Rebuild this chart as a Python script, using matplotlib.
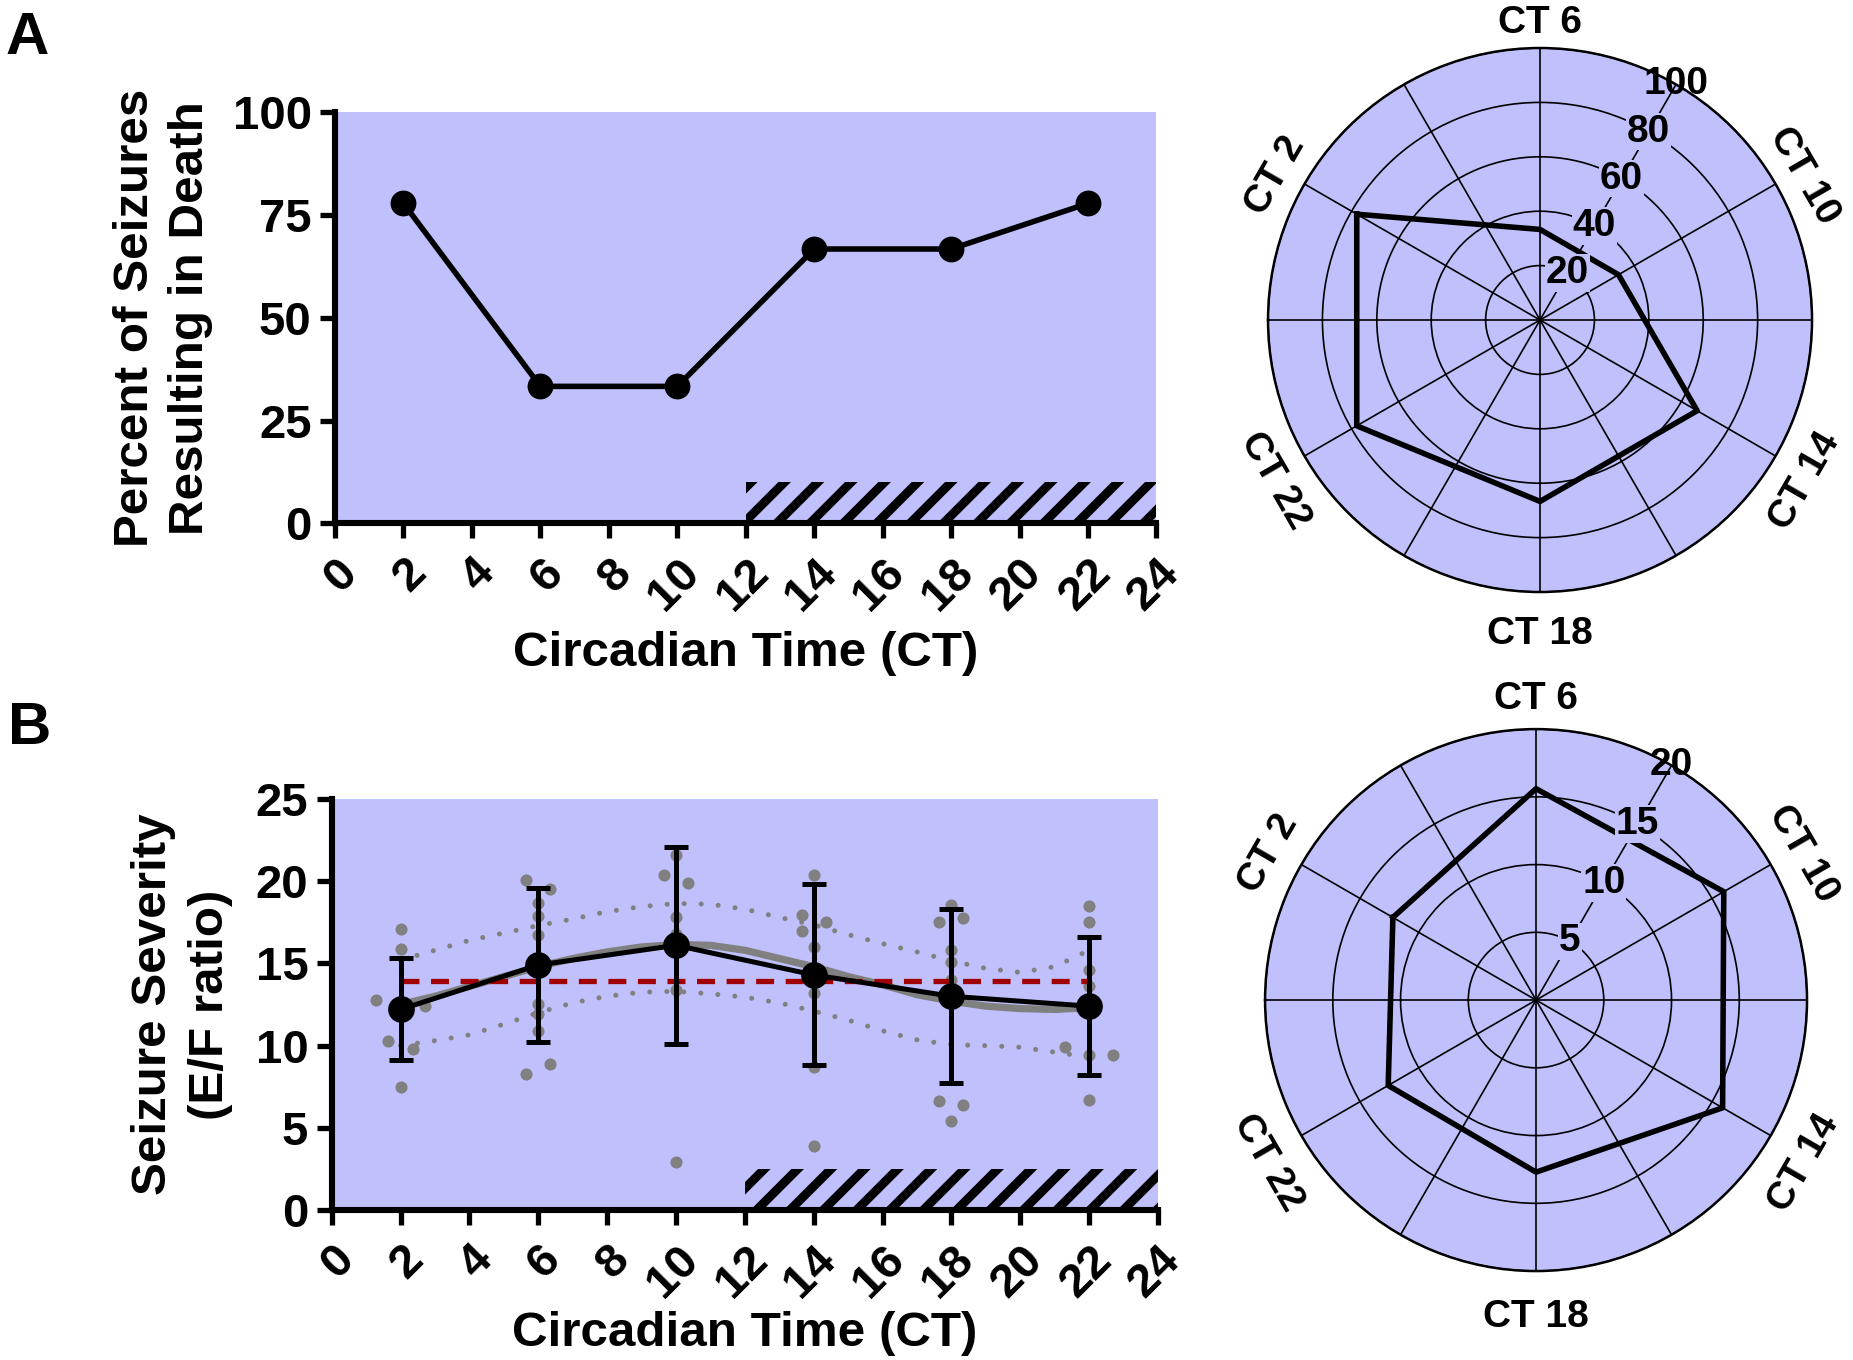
import numpy as np
import matplotlib
matplotlib.use("Agg")
import matplotlib.pyplot as plt
from matplotlib.patches import Rectangle
from matplotlib.transforms import ScaledTranslation

plt.rcParams["font.family"] = ["Liberation Sans", "DejaVu Sans"]
plt.rcParams["font.weight"] = "bold"
plt.rcParams["axes.labelweight"] = "bold"
plt.rcParams["hatch.linewidth"] = 3.2
plt.rcParams["hatch.color"] = "black"

BG = "#c0c0fd"

# circadian time points
ct = [2, 6, 10, 14, 18, 22]

# Panel A: percent of seizures resulting in death
death_pct = [77.8, 33.3, 33.3, 66.7, 66.7, 77.8]

# Panel B: seizure severity, mean +/- SD per time point
sev_mean = [12.2, 14.9, 16.1, 14.3, 13.0, 12.4]
sev_sd = [3.1, 4.7, 6.0, 5.5, 5.3, 4.2]
overall_mean = 13.9

# individual animals (x jittered as in the figure)
pts_x = [1.3, 2.0, 2.0, 2.7, 1.65, 2.35, 2.0,
         5.65, 6.35, 6.0, 6.0, 6.0, 6.0, 6.0, 6.0, 5.65, 6.35,
         10.0, 9.65, 10.35, 10.0, 10.0, 10.0, 10.0,
         14.0, 13.65, 14.35, 13.65, 14.0, 14.0, 14.0, 14.0,
         18.0, 17.65, 18.35, 18.0, 18.0, 18.0, 17.65, 18.35, 18.0,
         22.0, 22.0, 22.0, 22.0, 21.3, 22.0, 22.7, 22.0]
pts_y = [12.8, 17.1, 15.9, 12.4, 10.3, 9.8, 7.5,
         20.1, 19.5, 18.7, 17.9, 16.7, 12.5, 11.9, 10.9, 8.3, 8.9,
         21.6, 20.4, 19.9, 17.8, 16.8, 13.4, 2.9,
         20.4, 17.95, 17.5, 17.0, 16.0, 13.2, 8.7, 3.9,
         18.55, 17.5, 17.75, 15.8, 15.1, 14.0, 6.65, 6.4, 5.4,
         18.5, 17.5, 14.6, 13.65, 9.9, 9.4, 9.45, 6.7]

# cosinor fit and its 95% band, read every hour
fit_ct = [2, 3, 4, 5, 6, 7, 8, 9, 10, 11, 12, 13, 14, 15, 16, 17, 18, 19, 20, 21, 22]
fit_y = [12.5, 13.0, 13.6, 14.2, 14.8, 15.3, 15.7, 16.0, 16.15, 16.1, 15.8,
         15.3, 14.8, 14.2, 13.7, 13.1, 12.7, 12.4, 12.25, 12.2, 12.3]
fit_hi = [15.2, 15.8, 16.4, 16.85, 17.3, 17.7, 18.15, 18.45, 18.65, 18.6, 18.3,
          17.8, 17.35, 16.75, 16.2, 15.7, 15.15, 14.7, 14.45, 14.8, 15.8]
fit_lo = [10.0, 10.3, 10.65, 11.3, 12.0, 12.6, 13.0, 13.25, 13.3, 13.15, 12.95,
          12.6, 12.1, 11.55, 10.9, 10.35, 10.05, 10.0, 9.9, 9.6, 9.3]

# radar plot values for panel B
sev_radar = [12.2, 15.6, 16.0, 15.9, 12.7, 12.6]

# dark phase bar
dark_start, dark_end = 12, 24
xticks = list(range(0, 25, 2))

fig = plt.figure(figsize=(9.265, 6.8), dpi=200)


def style_xy(ax, ymax, yticks, bar_h):
    ax.set_facecolor(BG)
    ax.set_xlim(0, 24)
    ax.set_ylim(0, ymax)
    ax.set_xticks(xticks)
    ax.set_yticks(yticks)
    for s in ["top", "right"]:
        ax.spines[s].set_visible(False)
    for s in ["left", "bottom"]:
        ax.spines[s].set_linewidth(2.2)
    ax.tick_params(length=5.4, width=1.9, labelsize=17, pad=3)
    ax.tick_params(axis="x", pad=4.5)
    plt.setp(ax.get_xticklabels(), rotation=45, ha="right", va="top",
             rotation_mode="anchor")
    ax.add_patch(Rectangle((dark_start, 0), dark_end - dark_start, bar_h,
                           fill=False, hatch="//", edgecolor="black",
                           linewidth=0, zorder=1))
    ax.set_xlabel("Circadian Time (CT)", fontsize=17.8)


# ---- Panel A line plot
axA = fig.add_axes([0.1808, 0.6152, 0.4433, 0.3024])
style_xy(axA, 100, [0, 25, 50, 75, 100], 10)
axA.plot(ct, death_pct, "-o", color="black", lw=2.0, ms=8.3, zorder=3)
axA.set_ylabel("Percent of Seizures\nResulting in Death", fontsize=17.8,
               linespacing=1.3)
axA.yaxis.set_label_coords(-0.1485, 0.5)
axA.xaxis.set_label_coords(0.5, -0.262)

# ---- Panel B severity plot
axB = fig.add_axes([0.1790, 0.1103, 0.4459, 0.3022])
style_xy(axB, 25, [0, 5, 10, 15, 20, 25], 2.5)
axB.scatter(pts_x, pts_y, s=19, color="#808080", lw=0, zorder=2)
axB.plot(fit_ct, fit_hi, color="#808080", lw=1.8, ls=(0, (0.01, 3.4)),
         dash_capstyle="round", zorder=2)
axB.plot(fit_ct, fit_lo, color="#808080", lw=1.8, ls=(0, (0.01, 3.4)),
         dash_capstyle="round", zorder=2)
axB.plot(fit_ct, fit_y, color="#808080", lw=2.6, zorder=3)
axB.plot([ct[0], ct[-1]], [overall_mean, overall_mean], color="#a00000",
         lw=1.9, ls=(0, (3.4, 2.2)), zorder=3)
axB.errorbar(ct, sev_mean, yerr=sev_sd, fmt="-o", color="black", lw=1.8,
             ms=8.6, elinewidth=1.8, capsize=4.3, capthick=1.8, zorder=4)
axB.set_ylabel("Seizure Severity\n(E/F ratio)", fontsize=17.8,
               linespacing=1.35)
axB.yaxis.set_label_coords(-0.1194, 0.5)
axB.xaxis.set_label_coords(0.5, -0.245)


# ---- radar plots
def radar(rect, values, rings, rmax, lab_r):
    ax = fig.add_axes(rect, projection="polar")
    ax.set_theta_zero_location("W")
    ax.set_theta_direction(-1)
    ax.set_facecolor(BG)
    theta = np.deg2rad(np.array(ct) * 15.0)
    ax.plot(np.append(theta, theta[0]), list(values) + [values[0]],
            color="black", lw=2.0, zorder=4)
    ax.set_ylim(0, rmax)
    ax.set_yticks(rings)
    ax.set_yticklabels([])
    ax.set_xticks(np.deg2rad(np.arange(0, 360, 30)))
    ax.set_xticklabels([])
    ax.grid(True, color="black", lw=0.6)
    ax.spines["polar"].set_linewidth(0.9)
    for r in rings:
        box = dict(fc=BG, ec="none", pad=0.3) if r < rmax else None
        ax.text(np.deg2rad(120), r, str(r), ha="center", va="center",
                fontsize=14, zorder=5, bbox=box)
    shift = ax.transData + ScaledTranslation(0, -3 / 72, fig.dpi_scale_trans)
    for c, th in zip(ct, theta):
        disp = 180 - np.rad2deg(th)
        rot = disp % 180 - 90
        ax.text(th, rmax * lab_r, f"CT {c}", ha="center", va="center",
                rotation=rot, rotation_mode="anchor", fontsize=14,
                transform=shift)
    return ax


radar([0.6843, 0.5647, 0.2936, 0.4], death_pct, [20, 40, 60, 80, 100], 100, 1.123)
radar([0.6827, 0.0654, 0.2925, 0.3985], sev_radar, [5, 10, 15, 20], 20, 1.14)

fig.text(0.0032, 0.9603, "A", fontsize=21.6, va="baseline")
fig.text(0.0043, 0.4529, "B", fontsize=21.6, va="baseline")

fig.savefig("out.png", dpi=200)
